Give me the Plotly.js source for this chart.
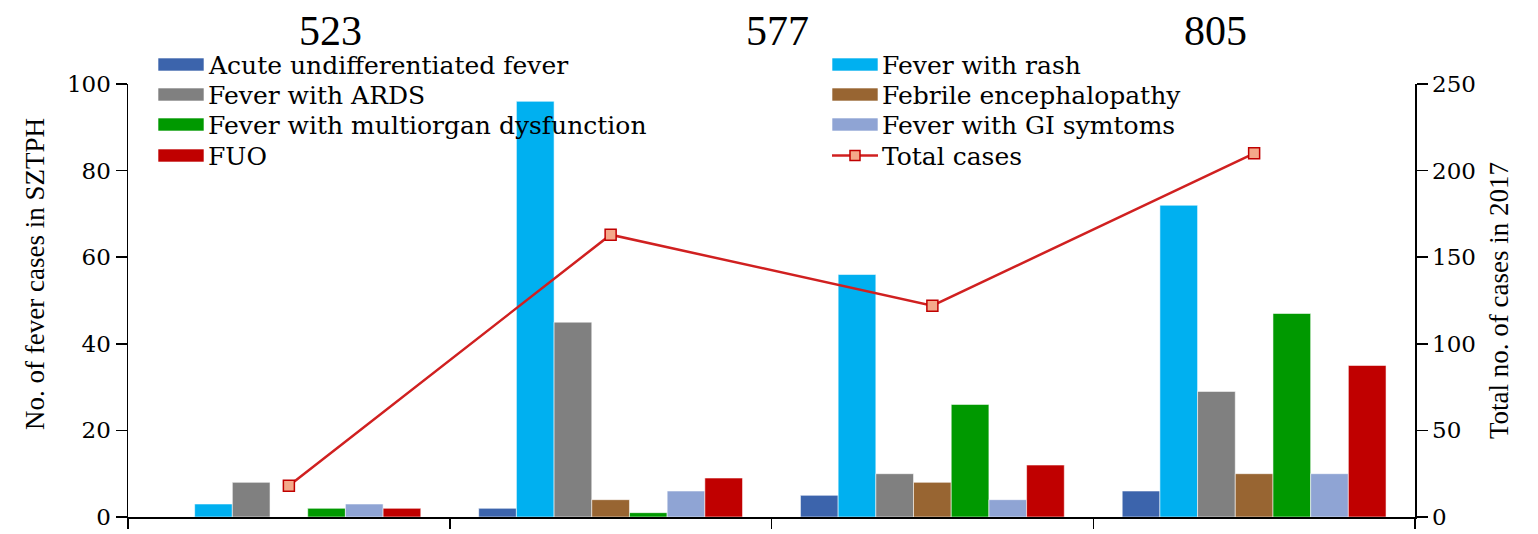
<!DOCTYPE html>
<html>
<head>
<meta charset="utf-8">
<script src="https://cdn.plot.ly/plotly-3.0.1.min.js"></script>
<style>html,body{margin:0;padding:0;background:#fff;}#chart{width:1538px;height:534px;}</style>
</head>
<body>
<div id="chart"></div>
<script>
const categories = ['Group 1', 'Group 2', 'Group 3', 'Group 4'];
const seriesNames = [
  'Acute undifferentiated fever',
  'Fever with rash',
  'Fever with ARDS',
  'Febrile encephalopathy',
  'Fever with multiorgan dysfunction',
  'Fever with GI symtoms',
  'FUO'
];
const acuteUndiff = [0, 2, 5, 6];
const feverRash = [3, 96, 56, 72];
const feverArds = [8, 45, 10, 29];
const febrileEnceph = [0, 4, 8, 10];
const feverMultiorgan = [2, 1, 26, 47];
const feverGI = [3, 6, 4, 10];
const fuo = [2, 9, 12, 35];
const totalName = 'Total cases';
const totalCases = [18, 163, 122, 210];
const topLabels = ['523', '577', '805'];
const leftTitle = 'No. of fever cases in SZTPH';
const rightTitle = 'Total no. of cases in 2017';

const seriesValues = [acuteUndiff, feverRash, feverArds, febrileEnceph, feverMultiorgan, feverGI, fuo];
const colors = ['#3C64AC', '#00B0F0', '#808080', '#986532', '#009900', '#8FA4D4', '#C00000'];
const lineColor = '#D02020';
const markerFill = '#F4A98A';
const SERIF = 'Liberation Serif, Times New Roman, serif';
const WIDE = 'DejaVu Serif, serif';

// plot area in pixels
const W = 1538, H = 534, L = 128, R = 123, T = 84, B = 17;
const PW = W - L - R, PH = H - T - B;
const px = x => (x - L) / PW;
const py = y => (H - B - y) / PH;

const traces = seriesNames.map((n, i) => ({
  type: 'bar', name: n, x: categories, y: seriesValues[i],
  marker: {color: colors[i], line: {color: 'rgba(255,255,255,0.55)', width: 1}},
  yaxis: 'y'
}));
traces.push({
  type: 'scatter', mode: 'lines+markers', name: totalName,
  x: categories, y: totalCases, yaxis: 'y2',
  line: {color: lineColor, width: 2.5},
  marker: {symbol: 'square', size: 11, color: markerFill, line: {color: '#C00000', width: 1.5}}
});

// manual legend (two columns)
const legendNames = seriesNames.concat([totalName]);
const colX = [158, 832];
const rowY = [64.5, 94.5, 124.5, 155.5];
const shapes = [];
const annotations = [];
legendNames.forEach((n, k) => {
  const c = k % 2, r = Math.floor(k / 2);
  const x0 = colX[c], yc = rowY[r];
  if (k < seriesNames.length) {
    shapes.push({type: 'rect', xref: 'paper', yref: 'paper',
      x0: px(x0), x1: px(x0 + 46), y0: py(yc + 6.5), y1: py(yc - 6.5),
      fillcolor: colors[k], line: {color: 'rgba(255,255,255,0.6)', width: 1}});
  } else {
    shapes.push({type: 'line', xref: 'paper', yref: 'paper',
      x0: px(x0), x1: px(x0 + 46), y0: py(yc), y1: py(yc),
      line: {color: lineColor, width: 2.5}});
    shapes.push({type: 'rect', xref: 'paper', yref: 'paper',
      x0: px(x0 + 18), x1: px(x0 + 28), y0: py(yc + 5), y1: py(yc - 5),
      fillcolor: markerFill, line: {color: '#C00000', width: 1.5}});
  }
  annotations.push({text: n, xref: 'paper', yref: 'paper', x: px(x0 + 48), y: py(yc + 1),
    xanchor: 'left', yanchor: 'middle', showarrow: false,
    font: {family: WIDE, size: 25, color: '#000'}});
});
const topX = [330, 777, 1215];
topLabels.forEach((t, i) => annotations.push({
  text: t, xref: 'paper', yref: 'paper', x: px(topX[i]), y: py(31),
  xanchor: 'center', yanchor: 'middle', showarrow: false,
  font: {family: SERIF, size: 42, color: '#000'}
}));
annotations.push({
  text: leftTitle, xref: 'paper', yref: 'paper', x: px(35), y: py(274),
  xanchor: 'center', yanchor: 'middle', textangle: -90, showarrow: false,
  font: {family: SERIF, size: 27, color: '#000'}
});

const layout = {
  width: W, height: H,
  margin: {l: L, r: R, t: T, b: B},
  paper_bgcolor: '#fff', plot_bgcolor: '#fff',
  font: {family: SERIF, color: '#000', size: 24},
  barmode: 'group', bargap: 0.18, bargroupgap: 0,
  showlegend: false,
  xaxis: {
    type: 'category', showticklabels: false, ticks: 'outside', tickson: 'boundaries',
    ticklen: 10, tickwidth: 1.5, tickcolor: '#000',
    showline: true, linecolor: '#000', linewidth: 1.5, showgrid: false, zeroline: false
  },
  yaxis: {
    range: [0, 100], dtick: 20, ticks: 'outside', ticklen: 11, tickwidth: 1.5, tickcolor: '#000',
    showline: true, linecolor: '#000', linewidth: 1.5, showgrid: false, zeroline: false,
    tickfont: {family: WIDE, size: 23}
  },
  yaxis2: {
    range: [0, 250], dtick: 50, overlaying: 'y', side: 'right',
    ticks: 'outside', ticklen: 11, tickwidth: 1.5, tickcolor: '#000',
    showline: true, linecolor: '#000', linewidth: 1.5, showgrid: false, zeroline: false,
    tickfont: {family: WIDE, size: 23},
    title: {text: rightTitle, font: {family: SERIF, size: 27}, standoff: 14}
  },
  shapes: shapes,
  annotations: annotations
};

Plotly.newPlot('chart', traces, layout, {displayModeBar: false, staticPlot: true});
</script>
</body>
</html>
